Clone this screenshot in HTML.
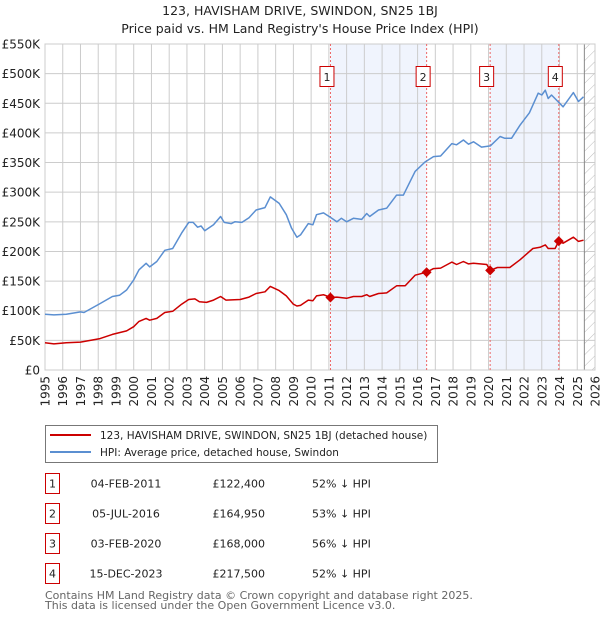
<!DOCTYPE html>
<html><head><meta charset="utf-8"><style>
body{margin:0;background:#fff;font-family:"Liberation Sans","DejaVu Sans",sans-serif;}
#wrap{position:relative;width:600px;height:620px;overflow:hidden;}
</style></head><body>
<div id="wrap">
<svg id="chart" width="600" height="620" xmlns="http://www.w3.org/2000/svg" font-family="DejaVu Sans, Liberation Sans, sans-serif">
<text x="300" y="15" text-anchor="middle" font-size="12.5" fill="#222">123, HAVISHAM DRIVE, SWINDON, SN25 1BJ</text>
<text x="300" y="33" text-anchor="middle" font-size="12.5" fill="#222">Price paid vs. HM Land Registry's House Price Index (HPI)</text>
<g id="plot"></g>
<g>
<rect x="45.5" y="425.5" width="392" height="37" fill="#fff" stroke="#777"/>
<line x1="50" y1="435" x2="91" y2="435" stroke="#cc0000" stroke-width="2"/>
<text x="100" y="439" font-size="10.5" fill="#222">123, HAVISHAM DRIVE, SWINDON, SN25 1BJ (detached house)</text>
<line x1="50" y1="452" x2="91" y2="452" stroke="#5b8fd1" stroke-width="2"/>
<text x="100" y="456" font-size="10.5" fill="#222">HPI: Average price, detached house, Swindon</text>
</g>
<g id="table" font-size="11" fill="#222"></g>
<text x="45" y="599" font-size="11" fill="#666">Contains HM Land Registry data © Crown copyright and database right 2025.</text>
<text x="45" y="609" font-size="11" fill="#666">This data is licensed under the Open Government Licence v3.0.</text>
</svg>
</div>
<script>
const hpiYears=[1995,1995.5,1996.2,1997,1997.2,1998.1,1998.8,1999.2,1999.6,2000,2000.3,2000.7,2000.9,2001.3,2001.75,2002.2,2002.7,2003.1,2003.35,2003.6,2003.8,2004,2004.5,2004.9,2005.1,2005.5,2005.7,2006.1,2006.5,2006.9,2007.4,2007.7,2008.2,2008.6,2008.9,2009.2,2009.4,2009.84,2010.1,2010.3,2010.7,2011.07,2011.45,2011.7,2012,2012.38,2012.85,2013.13,2013.3,2013.8,2014.26,2014.82,2015.2,2015.86,2016.42,2016.9,2017.3,2017.93,2018.2,2018.58,2018.87,2019.15,2019.6,2020.1,2020.65,2020.9,2021.3,2021.77,2022.3,2022.8,2023,2023.2,2023.36,2023.55,2024.2,2024.78,2025.07,2025.35];
const hpiValues=[94,93,94,98,97,112,124,126,135,152,169,180,174,183,202,205,231,249,249,241,243,235,245,259,249,247,250,249,257,270,274,292,281,262,239,224,228,247,245,262,265,258,250,256,250,256,254,264,259,270,273,295,295,335,351,360,361,382,380,388,381,385,376,378,394,391,391,413,434,467,464,472,458,464,444,468,453,461];
const propYears=[1995,1995.5,1996.2,1997,1998.1,1998.8,1999.6,2000,2000.3,2000.7,2000.9,2001.3,2001.75,2002.2,2002.7,2003.1,2003.45,2003.7,2004.1,2004.5,2004.9,2005.2,2006,2006.5,2006.9,2007.4,2007.7,2008.2,2008.6,2009,2009.2,2009.4,2009.84,2010.1,2010.3,2010.7,2011.09,2011.45,2012,2012.38,2012.85,2013.13,2013.3,2013.8,2014.26,2014.82,2015.3,2015.86,2016.51,2016.9,2017.3,2017.93,2018.2,2018.58,2018.87,2019.15,2019.9,2020.09,2020.5,2021.2,2021.77,2022.5,2022.9,2023.2,2023.36,2023.75,2023.96,2024.2,2024.78,2025.07,2025.35];
const propValues=[46,44,46,47,53,60,66,73,82,87,84,87,97,99,111,119,120,115,114,118,124,118,119,123,129,132,141,134,125,111,108,109,118,117,125,127,122.4,123,121,124,124,127,124,129,130,142,142,160,164.95,171,172,182,178,183,179,180,178,168,173,173,186,205,207,211,205,205,217.5,214,224,217,219];
const saleLabels=["1","2","3","4"];
const saleYears=[2011.09,2016.51,2020.09,2023.96];
const saleValues=[122.4,164.95,168,217.5];
const saleDates=["04-FEB-2011","05-JUL-2016","03-FEB-2020","15-DEC-2023"];
const salePrices=["£122,400","£164,950","£168,000","£217,500"];
const saleDiffs=["52% ↓ HPI","53% ↓ HPI","56% ↓ HPI","52% ↓ HPI"];
const yTicks=[0,50,100,150,200,250,300,350,400,450,500,550];
const yTickLabels=["£0","£50K","£100K","£150K","£200K","£250K","£300K","£350K","£400K","£450K","£500K","£550K"];
const xTicks=[1995,1996,1997,1998,1999,2000,2001,2002,2003,2004,2005,2006,2007,2008,2009,2010,2011,2012,2013,2014,2015,2016,2017,2018,2019,2020,2021,2022,2023,2024,2025,2026];
const dataEnd=2025.4;

const L=45,R=595,T=44,B=370,X0=1995,X1=2026,YMAX=550;
const xs=v=>L+(v-X0)/(X1-X0)*(R-L);
const ys=v=>B-v/YMAX*(B-T);
const NS="http://www.w3.org/2000/svg";
function mk(p,tag,a){const e=document.createElementNS(NS,tag);for(const k in a)e.setAttribute(k,a[k]);p.appendChild(e);return e;}
const plot=document.getElementById('plot');
for(let i=0;i<saleYears.length;i+=2){
 const r=mk(plot,'rect',{x:xs(saleYears[i]),y:T,width:xs(saleYears[i+1])-xs(saleYears[i]),height:B-T,fill:'#f0f4fd'});
 
 
}
yTicks.forEach((v,i)=>{
 const l=mk(plot,'line',{x1:L,x2:R,y1:ys(v),y2:ys(v),stroke:'#cccccc','stroke-width':1});
 
 
 const t=mk(plot,'text',{x:40,y:ys(v)+4.5,'text-anchor':'end','font-size':12,fill:'#222'});
 t.textContent=yTickLabels[i];
 
 
});
xTicks.forEach(v=>{
 const l=mk(plot,'line',{x1:xs(v),x2:xs(v),y1:T,y2:B,stroke:'#cccccc','stroke-width':1});
 
 
 const t=mk(plot,'text',{x:0,y:0,'text-anchor':'end','font-size':12,fill:'#222',transform:`translate(${xs(v)+4.5},376) rotate(-90)`});
 t.textContent=v;
 
 
});
const defs=mk(plot,'defs',{});
const pat=mk(defs,'pattern',{id:'hatch',width:8,height:8,patternUnits:'userSpaceOnUse',patternTransform:'rotate(45)'});
mk(pat,'line',{x1:0,y1:0,x2:0,y2:8,stroke:'#bbb','stroke-width':1});
const hz=mk(plot,'rect',{x:xs(dataEnd),y:T,width:R-xs(dataEnd),height:B-T,fill:'url(#hatch)'});


mk(plot,'line',{x1:xs(dataEnd),x2:xs(dataEnd),y1:T,y2:B,stroke:'#888'});
mk(plot,'rect',{x:L,y:T,width:R-L,height:B-T,fill:'none',stroke:'#cccccc'});
saleYears.forEach((v,i)=>{
 const l=mk(plot,'line',{x1:xs(v),x2:xs(v),y1:T,y2:B,stroke:'#ee6666','stroke-dasharray':'2,2','stroke-width':1});
 
 
 const b=mk(plot,'rect',{x:xs(v)-10.5,y:66.5,width:14,height:20,fill:'#fff',stroke:'#cc0000'});
 
 
 const t=mk(plot,'text',{x:xs(v)-3.5,y:81,'text-anchor':'middle','font-size':11,fill:'#222'});
 t.textContent=saleLabels[i];
 
 
});
function path(xa,ya,col,name){
 const d=xa.map((x,i)=>(i?'L':'M')+xs(x).toFixed(1)+','+ys(ya[i]).toFixed(1)).join('');
 const p=mk(plot,'path',{d:d,fill:'none',stroke:col,'stroke-width':1.5,'stroke-linejoin':'round'});
 
 
}
path(hpiYears,hpiValues,'#5b8fd1','hpi-line');
path(propYears,propValues,'#cc0000','property-price-line');
saleYears.forEach((v,i)=>{
 const c=mk(plot,'path',{d:`M${xs(v)},${ys(saleValues[i])-5}l5,5l-5,5l-5,-5z`,fill:'#cc0000'});
 
 
});
const tb=document.getElementById('table');
saleLabels.forEach((s,i)=>{
 const y=483+i*30;
 const b=mk(tb,'rect',{x:45.5,y:y-9.5,width:14,height:20,fill:'#fff',stroke:'#cc0000'});
 
 
 const cells=[[52.5,s,'middle'],[126,saleDates[i],'middle'],[265,salePrices[i],'end'],[312,saleDiffs[i],'start']];
 const names=['table-index','table-date','table-price','table-hpi-diff'];
 cells.forEach((c,j)=>{
  const t=mk(tb,'text',{x:c[0],y:y+4.5,'text-anchor':c[2],'font-size':11,fill:'#222'});
  t.textContent=c[1];
  
  
 });
});
</script>
</body></html>
